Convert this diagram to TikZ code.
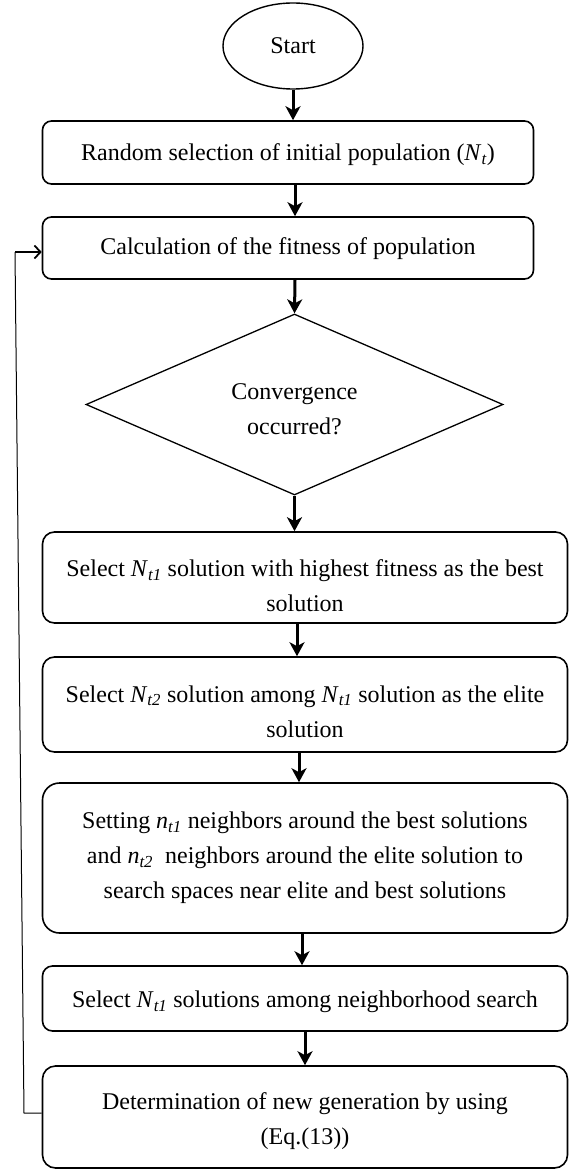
\documentclass[tikz,border=0pt]{standalone}
\usepackage{fontspec}
\setmainfont{Liberation Serif}
\usetikzlibrary{shapes.geometric,arrows.meta}
\newcommand\mysub[1]{\textsubscript{\itshape #1}}
\begin{document}
\begin{tikzpicture}[x=1pt,y=1pt,
  every node/.style={font=\fontsize{24}{35}\selectfont, align=center, inner sep=0pt},
  box/.style={draw, line width=1.6pt, rounded corners=9pt},
  flowarrow/.style={line width=3pt, -{Stealth[length=14pt,width=15pt,inset=4pt]}},
  backline/.style={line width=1pt},
  backarrow/.style={line width=1.8pt, -{Straight Barb[length=6pt,width=13pt,line width=1.8pt]}}
]
\useasboundingbox (0,0) rectangle (573,-1169);

\node[draw, ellipse, line width=1.4pt, minimum width=140pt, minimum height=86pt] (start) at (293,-46) {Start};

\node[box, minimum width=491pt, minimum height=63pt] (b1) at (288,-152.5) {};
\node (b1t) at ([yshift=-2.5pt]b1.center) {Random selection of initial population (\textit{N}\mysub{t})};
\node[box, minimum width=491pt, minimum height=62pt] (b2) at (288,-248) {};
\node (b2t) at ([yshift=-1pt]b2.center) {Calculation of the fitness of population};

\node[draw, diamond, line width=1.3pt, minimum width=417pt, minimum height=181pt] (dia) at (294.5,-404.5) {};
\node (diatext) at (294.5,-409) {Convergence\\occurred?};

\node[box, rounded corners=12pt, minimum width=525pt, minimum height=91pt] (b3) at (305,-577.5) {};
\node (b3t) at ([yshift=-8pt]b3.center)
  {Select \textit{N}\mysub{t1} solution with highest fitness as the best\\solution};
\node[box, rounded corners=12pt, minimum width=525pt, minimum height=95pt] (b4) at (305,-704.5) {};
\node (b4t) at ([yshift=-7pt]b4.center)
  {Select \textit{N}\mysub{t2} solution among \textit{N}\mysub{t1} solution as the elite\\solution};
\node[box, rounded corners=17pt, minimum width=525pt, minimum height=150pt] (b5) at (305,-858) {};
\node (b5t) at (b5.center)
  {Setting \textit{n}\mysub{t1} neighbors around the best solutions\\and \textit{n}\mysub{t2}\ \ neighbors around the elite solution to\\search spaces near elite and best solutions};
\node[box, rounded corners=10pt, minimum width=525pt, minimum height=65pt] (b6) at (305,-998.5) {};
\node (b6t) at ([yshift=-3.5pt]b6.center) {Select \textit{N}\mysub{t1} solutions among neighborhood search};
\node[box, rounded corners=13pt, minimum width=525pt, minimum height=102pt] (b7) at (305,-1117) {};
\node (b7t) at ([yshift=-4.5pt]b7.center) {Determination of new generation by using\\(Eq.(13))};

\draw[flowarrow] (start.south) -- (start.south |- b1.north);
\draw[flowarrow] ([xshift=7pt]b1.south) -- ([xshift=7pt]b2.north);
\draw[flowarrow] ([xshift=7pt]b2.south) -- (dia.north);
\draw[flowarrow] (dia.south) -- (dia.south |- b3.north);
\draw[flowarrow] ([xshift=-8pt]b3.south) -- ([xshift=-8pt]b4.north);
\draw[flowarrow] ([xshift=-6pt]b4.south) -- ([xshift=-6pt]b5.north);
\draw[flowarrow] ([xshift=-3pt]b5.south) -- ([xshift=-3pt]b6.north);
\draw[flowarrow] ([xshift=0pt]b6.south) -- ([xshift=0pt]b7.north);

\coordinate (c1) at (24,-1113);
\coordinate (c2) at (15,-252);
\draw[backline] (b7.west |- c1) -- (c1) -- (c2);
\draw[backarrow] (c2) -- (b2.west |- c2);
\end{tikzpicture}
\end{document}
